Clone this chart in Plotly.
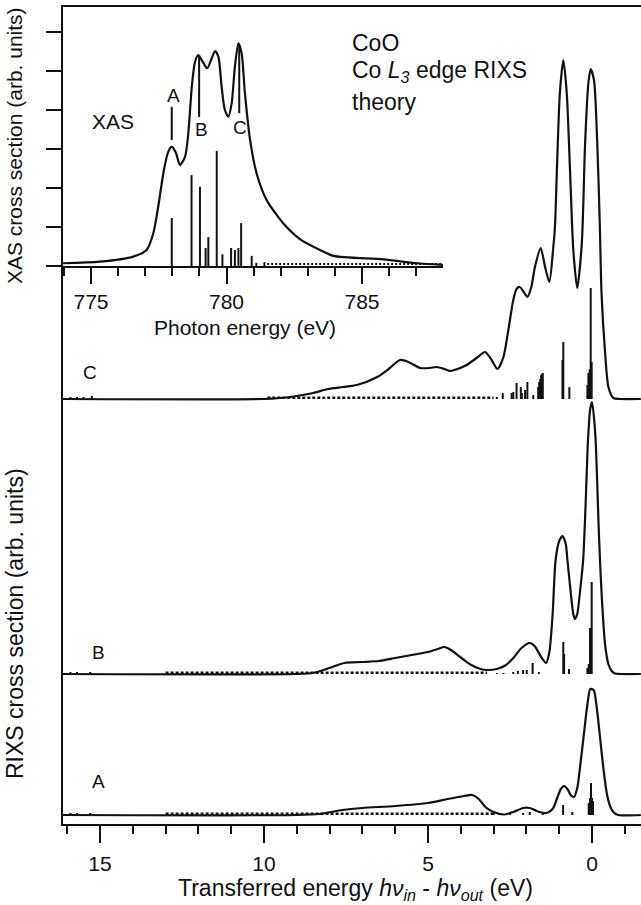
import plotly.graph_objects as go

# ---------------- data ----------------
# XAS (inset), photon energy in eV, intensity in arb. units
XAS_E = [773.97, 775.33, 776.56, 777.05, 777.3, 777.48, 777.67, 777.83, 777.98, 778.14, 778.28, 778.47,
         778.59, 778.72, 778.84, 778.96, 779.12, 779.29, 779.45, 779.58, 779.70, 779.82, 779.94, 780.07,
         780.19, 780.31, 780.44, 780.56, 780.68, 780.87, 781.11, 781.48, 782.1, 782.71, 783.45, 783.94,
         785.79, 787.02, 788.0]
XAS_I = [0.07, 0.11, 0.24, 0.41, 0.84, 1.52, 2.38, 2.89, 3.06, 2.89, 2.59, 2.80,
         3.40, 4.60, 5.24, 5.41, 5.24, 5.07, 5.32, 5.51, 5.37, 4.60, 4.0, 3.83,
         4.17, 5.11, 5.71, 5.45, 4.43, 3.23, 2.38, 1.69, 1.09, 0.69, 0.41, 0.26,
         0.17, 0.07, 0.03]
XAS_STICK_E = [777.98, 778.71, 779.02, 779.23, 779.33, 779.64, 779.85, 780.17, 780.31, 780.44, 780.54,
               780.93, 781.1, 781.4]
XAS_STICK_I = [1.23, 2.33, 2.03, 0.46, 0.74, 2.95, 0.3, 0.46, 0.41, 0.46, 1.1, 0.26, 0.08, 0.1]
MARK_LABELS = ["A", "B", "C"]
MARK_E = [777.98, 778.99, 780.47]
MARK_LO = [3.23, 3.82, 3.92]
MARK_HI = [4.08, 5.41, 5.67]
XAS_NOISE_RANGE = [781.5, 788.0]

# RIXS spectra: transferred energy (eV), intensity (arb. units)
RIXS_OFFSET = {"A": 9, "B": 150, "C": 425}

A_E = [16.13, 9.0, 8.3, 7.6, 7.0, 6.0, 5.0, 4.4, 3.9, 3.65, 3.45, 3.25, 3.0, 2.7, 2.4, 2.1, 1.9, 1.6,
       1.4, 1.2, 1.05, 0.95, 0.85, 0.75, 0.65, 0.55, 0.45, 0.35, 0.25, 0.15, 0.05, -0.05, -0.15, -0.25,
       -0.35, -0.45, -0.55, -0.65, -0.8, -1.49]
A_I = [0, 0, 1, 5, 7, 9, 12, 16, 19, 20, 16, 8, 3, 0.5, 3, 7, 7, 3,
       2, 6, 18, 26, 29, 26, 20, 18, 27, 52, 80, 108, 126, 125, 106, 76,
       46, 22, 9, 3, 0, 0]
A_STICK_E = [15.9, 15.7, 15.3, 3.0, 2.8, 2.5, 2.1, 1.9, 1.5, 0.88, 0.6, 0.1, 0.06, 0.03, 0.0, -0.03]
A_STICK_I = [2, 2, 2, 2, 2, 2, 2, 3, 2, 10, 3, 12, 17, 32, 17, 14]
A_NOISE_RANGE = [13.0, 3.0]

B_E = [16.13, 9.0, 8.5, 8.0, 7.55, 7.0, 6.5, 6.0, 5.5, 5.0, 4.7, 4.5, 4.3, 4.1, 3.9, 3.68, 3.4, 3.2,
       2.9, 2.62, 2.4, 2.15, 1.9, 1.75, 1.55, 1.4, 1.3, 1.2, 1.11, 1.0, 0.9, 0.8, 0.75, 0.65, 0.57,
       0.52, 0.45, 0.37, 0.27, 0.2, 0.12, 0.05, 0.0, -0.1, -0.2, -0.244, -0.3, -0.4, -0.5, -0.6,
       -0.7, -0.85, -1.49]
B_I = [0, 0, 1, 6, 11, 12, 13, 16, 19, 22, 25, 27, 24, 19, 14, 9, 5, 4,
       5, 9, 16, 26, 31, 28, 17, 11, 22, 60, 114, 133, 138, 130, 114, 82, 60,
       55, 60, 81, 114, 165, 235, 266, 272, 240, 150, 114, 76, 29, 10, 3,
       0.5, 0, 0]
B_STICK_E = [15.9, 15.7, 15.3, 2.9, 2.7, 2.4, 2.26, 2.1, 1.99, 1.81, 1.62, 0.875, 0.85, 0.7, 0.14, 0.1,
             0.06, 0.01]
B_STICK_I = [2, 2, 2, 1, 1, 2, 3, 4, 4, 11, 2, 32, 20, 5, 6, 10, 46, 92]
B_NOISE_RANGE = [13.0, 3.2]

C_E = [16.13, 10.0, 9.5, 9.0, 8.5, 8.05, 7.6, 7.17, 6.55, 6.2, 5.85, 5.6, 5.24, 4.95, 4.73, 4.5, 4.33,
       4.1, 3.82, 3.52, 3.26, 3.06, 2.88, 2.70, 2.55, 2.40, 2.30, 2.2, 2.1, 1.97, 1.85, 1.74, 1.565,
       1.43, 1.30, 1.18, 1.13, 1.06, 0.98, 0.875, 0.77, 0.67, 0.57, 0.45, 0.31, 0.21, 0.11, 0.04,
       -0.06, -0.16, -0.24, -0.29, -0.40, -0.50, -0.65, -0.85, -1.49]
C_I = [0, 0, 1, 3, 6, 10, 12, 14, 22, 30, 39, 37, 31, 31, 32, 30, 28,
       30, 34, 41, 47, 39, 30, 42, 69, 99, 110, 112, 108, 102, 112, 132, 151,
       132, 117, 152, 172, 239, 306, 339, 306, 229, 149, 111, 156, 256, 316, 330,
       319, 256, 172, 106, 46, 12, 1, 0, 0]
C_STICK_E = [15.9, 15.7, 15.5, 15.25, 2.9, 2.72, 2.45, 2.4, 2.3, 2.17, 2.14, 2.04, 1.97, 1.79, 1.64,
             1.61, 1.58, 1.55, 1.53, 1.50, 0.9, 0.875, 0.69, 0.14, 0.11, 0.07, 0.04, 0.01]
C_STICK_I = [2, 2, 2, 3, 2, 6, 6, 7, 16, 12, 6, 9, 17, 4, 12,
             17, 20, 24, 25, 26, 39, 57, 12, 14, 26, 30, 111, 37]
C_NOISE_RANGE = [9.9, 3.0]

MAIN_XTICKS = [15, 10, 5, 0]
INSET_XTICKS = [775, 780, 785]

# ---------------- figure ----------------
W, H = 641, 905
FONT = "Liberation Sans, Arial, Helvetica, sans-serif"
BLACK = "#111111"


def px(x):
    return x / W


def py(y):
    return 1 - y / H


def sticks(es, hs, base=0.0):
    xs, ys = [], []
    for e, h in zip(es, hs):
        xs += [e, e, None]
        ys += [base, base + h, None]
    return xs, ys


fig = go.Figure()

# RIXS spectra (main axes)
spectra = [("A", A_E, A_I, A_STICK_E, A_STICK_I, A_NOISE_RANGE),
           ("B", B_E, B_I, B_STICK_E, B_STICK_I, B_NOISE_RANGE),
           ("C", C_E, C_I, C_STICK_E, C_STICK_I, C_NOISE_RANGE)]
for name, es, ins, se, si, nr in spectra:
    off = RIXS_OFFSET[name]
    fig.add_trace(go.Scatter(x=nr, y=[off + 1.2, off + 1.2], mode="lines",
                             line=dict(color=BLACK, width=2.5, dash="3px,2px"),
                             xaxis="x", yaxis="y", hoverinfo="skip"))
    sx, sy = sticks(se, si, off)
    fig.add_trace(go.Scatter(x=sx, y=sy, mode="lines", line=dict(color=BLACK, width=2),
                             xaxis="x", yaxis="y", hoverinfo="skip"))
    fig.add_trace(go.Scatter(x=es, y=[off + v for v in ins], mode="lines",
                             line=dict(color=BLACK, width=2.2, shape="spline", smoothing=0.7),
                             xaxis="x", yaxis="y", name=name))

# XAS inset
fig.add_trace(go.Scatter(x=XAS_NOISE_RANGE, y=[0.05, 0.05], mode="lines",
                         line=dict(color=BLACK, width=2, dash="2px,2px"),
                         xaxis="x2", yaxis="y2", hoverinfo="skip"))
sx, sy = sticks(XAS_STICK_E, XAS_STICK_I)
fig.add_trace(go.Scatter(x=sx, y=sy, mode="lines", line=dict(color=BLACK, width=2),
                         xaxis="x2", yaxis="y2", hoverinfo="skip"))
fig.add_trace(go.Scatter(x=XAS_E, y=XAS_I, mode="lines",
                         line=dict(color=BLACK, width=2.2, shape="spline", smoothing=0.7),
                         xaxis="x2", yaxis="y2", name="XAS"))
mx, my = [], []
for e, lo, hi in zip(MARK_E, MARK_LO, MARK_HI):
    mx += [e, e, None]
    my += [lo, hi, None]
fig.add_trace(go.Scatter(x=mx, y=my, mode="lines", line=dict(color=BLACK, width=2),
                         xaxis="x2", yaxis="y2", hoverinfo="skip"))

# geometry (pixels)
L, R = 63, 641
TOP, BOT = 7, 824
INS_R, INS_B = 443, 266
main_x_range = [(592 - L) / 32.8, (592 - R) / 32.8]
ins_x_range = [775 + (L - 91) / 27.1, 775 + (INS_R - 91) / 27.1]

axis_common = dict(showgrid=False, zeroline=False, showline=True, linecolor=BLACK, linewidth=2,
                   tickcolor=BLACK, tickfont=dict(family=FONT, size=21, color=BLACK))

fig.update_layout(
    width=W, height=H, autosize=False,
    margin=dict(l=0, r=0, t=0, b=0),
    paper_bgcolor="white", plot_bgcolor="rgba(0,0,0,0)",
    showlegend=False,
    xaxis=dict(domain=[px(L), px(R)], range=main_x_range, anchor="y",
               ticks="outside", ticklen=17, tickwidth=2, tickvals=MAIN_XTICKS,
               ticklabelstandoff=3,
               minor=dict(dtick=1, tick0=0, ticks="outside", ticklen=8, tickwidth=2, tickcolor=BLACK),
               mirror=True, **axis_common),
    yaxis=dict(domain=[py(BOT), py(TOP)], range=[0, BOT - TOP], anchor="x",
               ticks="", showticklabels=False, **axis_common),
    xaxis2=dict(domain=[px(L), px(INS_R)], range=ins_x_range, anchor="y2",
                ticks="outside", ticklen=16, tickwidth=2, tickvals=INSET_XTICKS,
                minor=dict(dtick=1, tick0=0, ticks="outside", ticklen=8, tickwidth=2, tickcolor=BLACK),
                **axis_common),
    yaxis2=dict(domain=[py(INS_B), py(TOP)], range=[0, (INS_B - TOP) / 39.0], anchor="x2",
                ticks="outside", ticklen=15, tickwidth=2, tick0=0, dtick=1,
                showticklabels=False, **axis_common),
)

ann = []


def text(x, y, s, size, anchor="center", angle=0):
    ann.append(dict(x=px(x), y=py(y), xref="paper", yref="paper", text=s, showarrow=False,
                    xanchor=anchor, yanchor="middle", textangle=angle,
                    font=dict(family=FONT, size=size, color=BLACK)))


text(355, 889, "Transferred energy <i>hν</i><sub><i>in</i></sub> - <i>hν</i><sub><i>out</i></sub> (eV)", 23)
text(245, 328, "Photon energy (eV)", 21)
text(15, 146, "XAS cross section (arb. units)", 21, angle=-90)
text(15, 624, "RIXS cross section (arb. units)", 23, angle=-90)
text(113, 121, "XAS", 21)
text(350, 43, "CoO", 23, anchor="left")
text(350, 72, "Co <i>L</i><sub><i>3</i></sub> edge RIXS", 23, anchor="left")
text(350, 102, "theory", 23, anchor="left")
# inset marker labels
text(173.5, 96, MARK_LABELS[0], 19)
text(201.5, 130, MARK_LABELS[1], 19)
text(240, 127, MARK_LABELS[2], 19)
# spectrum labels
text(98, 781, "A", 19)
text(98, 652, "B", 19)
text(90, 372, "C", 19)
fig.update_layout(annotations=ann)

fig.write_html("out.html",
               config={"displayModeBar": False, "staticPlot": True},
               post_script="document.body.style.margin='0px';document.body.style.padding='0px';"
                           "document.body.style.overflow='hidden';")
